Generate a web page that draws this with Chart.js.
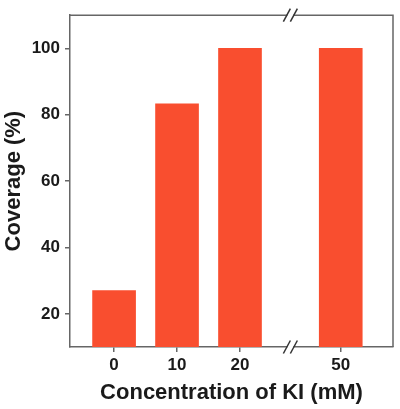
<!DOCTYPE html>
<html>
<head>
<meta charset="utf-8">
<script src="https://cdn.jsdelivr.net/npm/chart.js@4"></script>
<style>
  html, body { margin: 0; padding: 0; background: #fff; }
  #wrap { width: 400px; height: 409px; }
</style>
</head>
<body>
<div id="wrap"><canvas id="coverageChart" width="400" height="409"></canvas></div>
<script>
// Données
const concentrations = ['0', '10', '20', '50'];
const coverage = [27, 83.3, 100, 100];
const yTicks = [20, 40, 60, 80, 100];

// axe coupé entre 20 et 50 mM
const breakAfter = 2;
const breakGap = 0.6;
const positions = concentrations.map((c, i) => i + (i > breakAfter ? breakGap : 0));
const breakPos = (positions[breakAfter] + positions[breakAfter + 1]) / 2;

const axisColor = '#666';
const textColor = '#1a1a1a';
const fontFamily = '"Liberation Sans", Arial, Helvetica, sans-serif';

// cadre complet + marques de coupure "//"
const frameAndBreak = {
    id: 'frameAndBreak',
    afterDraw(chart) {
        const { ctx, chartArea: a } = chart;
        const bx = chart.scales.x.getPixelForValue(breakPos);
        ctx.save();
        ctx.strokeStyle = axisColor;
        ctx.lineWidth = 1.5;
        ctx.beginPath();
        ctx.moveTo(a.left, a.top);
        ctx.lineTo(a.right, a.top);
        ctx.lineTo(a.right, a.bottom);
        ctx.stroke();
        [a.top, a.bottom].forEach(y => {
            ctx.fillStyle = '#fff';
            ctx.fillRect(bx - 3, y - 2, 6, 4);
            ctx.strokeStyle = '#333';
            ctx.lineWidth = 1.5;
            [-3.5, 3.5].forEach(dx => {
                ctx.beginPath();
                ctx.moveTo(bx + dx - 3.5, y + 6.5);
                ctx.lineTo(bx + dx + 3.5, y - 6.5);
                ctx.stroke();
            });
        });
        ctx.restore();
    }
};

new Chart(document.getElementById('coverageChart'), {
    type: 'bar',
    data: {
        datasets: [{
            label: 'Coverage',
            data: positions.map((p, i) => ({ x: p, y: coverage[i] })),
            backgroundColor: '#F94E2F',
            borderWidth: 0,
            barThickness: 43
        }]
    },
    options: {
        responsive: false,
        animation: false,
        layout: { padding: { top: 15, right: 7, left: 0, bottom: 0 } },
        plugins: { legend: { display: false }, tooltip: { enabled: false } },
        scales: {
            x: {
                type: 'linear',
                offset: false,
                min: -0.7,
                max: 4.43,
                afterBuildTicks: s => { s.ticks = positions.map(p => ({ value: p })); },
                afterFit: s => { s.height = 62; },
                ticks: {
                    autoSkip: false,
                    maxRotation: 0,
                    padding: 3,
                    color: textColor,
                    font: { family: fontFamily, size: 17, weight: 'bold' },
                    callback: (v) => concentrations[positions.indexOf(v)]
                },
                grid: { offset: false, drawOnChartArea: false, drawTicks: true, tickLength: 5, color: axisColor, lineWidth: 1.5 },
                border: { display: true, color: axisColor, width: 1.5 },
                title: {
                    display: true,
                    text: 'Concentration of KI (mM)',
                    color: textColor,
                    padding: { top: 0, bottom: 3 },
                    font: { family: fontFamily, size: 22, weight: 'bold' }
                }
            },
            y: {
                min: 10,
                max: 110,
                afterBuildTicks: s => { s.ticks = yTicks.map(v => ({ value: v })); },
                afterFit: s => { s.width = 70; },
                ticks: {
                    padding: 5,
                    color: textColor,
                    font: { family: fontFamily, size: 17, weight: 'bold' }
                },
                grid: { drawOnChartArea: false, drawTicks: true, tickLength: 5, color: axisColor, lineWidth: 1.5 },
                border: { display: true, color: axisColor, width: 1.5 },
                title: {
                    display: true,
                    text: 'Coverage (%)',
                    color: textColor,
                    padding: { top: 1, bottom: 0 },
                    font: { family: fontFamily, size: 22, weight: 'bold' }
                }
            }
        }
    },
    plugins: [frameAndBreak]
});
</script>
</body>
</html>
